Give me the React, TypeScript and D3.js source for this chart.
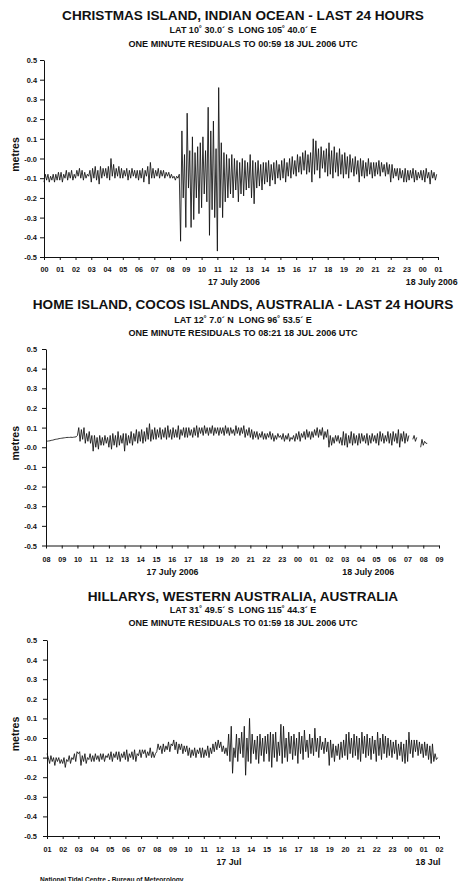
import React, { useRef, useEffect } from 'react';
import * as d3 from 'd3';

// shared y axis (metres)
const Y_TICKS = [0.5, 0.4, 0.3, 0.2, 0.1, 0, -0.1, -0.2, -0.3, -0.4, -0.5];
const Y_TICK_LABELS = ['0.5', '0.4', '0.3', '0.2', '0.1', '-0.0', '-0.1', '-0.2', '-0.3', '-0.4', '-0.5'];

const TITLES = [
  'CHRISTMAS ISLAND, INDIAN OCEAN - LAST 24 HOURS',
  'HOME ISLAND, COCOS ISLANDS, AUSTRALIA - LAST 24 HOURS',
  'HILLARYS, WESTERN AUSTRALIA, AUSTRALIA',
];
const POSITIONS = [
  'LAT 10˚ 30.0´ S\u00a0\u00a0LONG 105˚ 40.0´ E',
  'LAT 12˚ 7.0´ N\u00a0\u00a0LONG 96˚ 53.5´ E',
  'LAT 31˚ 49.5´ S\u00a0\u00a0LONG 115˚ 44.3´ E',
];
const RESIDUAL_LINES = [
  'ONE MINUTE RESIDUALS TO 00:59 18 JUL 2006 UTC',
  'ONE MINUTE RESIDUALS TO 08:21 18 JUL 2006 UTC',
  'ONE MINUTE RESIDUALS TO 01:59 18 JUL 2006 UTC',
];

const XMAS_HOURS = ['00', '01', '02', '03', '04', '05', '06', '07', '08', '09', '10', '11', '12', '13', '14', '15', '16', '17', '18', '19', '20', '21', '22', '23', '00', '01'];
const COCOS_HOURS = ['08', '09', '10', '11', '12', '13', '14', '15', '16', '17', '18', '19', '20', '21', '22', '23', '00', '01', '02', '03', '04', '05', '06', '07', '08', '09'];
const HILLARYS_HOURS = ['01', '02', '03', '04', '05', '06', '07', '08', '09', '10', '11', '12', '13', '14', '15', '16', '17', '18', '19', '20', '21', '22', '23', '00', '01', '02'];

const XMAS_DATES = ['17 July 2006', '18 July 2006'];
const COCOS_DATES = ['17 July 2006', '18 July 2006'];
const HILLARYS_DATES = ['17 Jul', '18 Jul'];

const FOOTER = 'National Tidal Centre - Bureau of Meteorology';

// residuals: one row per hour, six ten-minute (low, high) pairs
const XMAS_RESIDUALS: (number | null)[][] = [
  [-.12, -.08, -.11, -.08, -.12, -.09, -.11, -.08, -.12, -.08, -.11, -.07],
  [-.11, -.07, -.12, -.08, -.10, -.06, -.11, -.07, -.10, -.06, -.11, -.08],
  [-.10, -.06, -.09, -.05, -.10, -.06, -.11, -.07, -.10, -.08, -.09, -.06],
  [-.12, -.05, -.10, -.04, -.11, -.06, -.13, -.04, -.10, -.05, -.09, -.05],
  [-.10, -.04, -.11, .00, -.09, -.03, -.10, -.05, -.09, -.04, -.10, -.05],
  [-.10, -.06, -.09, -.05, -.11, -.06, -.10, -.05, -.09, -.06, -.10, -.06],
  [-.11, -.06, -.10, -.05, -.12, -.06, -.09, -.04, -.13, -.02, -.10, -.05],
  [-.10, -.06, -.09, -.05, -.10, -.06, -.09, -.06, -.10, -.07, -.09, -.07],
  [-.10, -.08, -.10, -.09, -.11, -.09, -.10, -.08, -.42, .14, -.20, .02],
  [-.35, .23, -.15, .04, -.35, .11, -.31, .03, -.20, .06, -.28, .08],
  [-.25, .11, -.18, .04, -.22, .26, -.39, .14, -.26, .19, -.30, .05],
  [-.47, .36, -.25, .08, -.30, .03, -.22, .02, -.20, .00, -.18, .02],
  [-.20, .00, -.16, -.01, -.22, -.02, -.18, .00, -.19, -.01, -.16, -.02],
  [-.15, .02, -.20, -.01, -.23, -.02, -.15, -.01, -.14, -.03, -.16, -.02],
  [-.13, -.02, -.12, -.01, -.14, -.03, -.11, -.02, -.13, -.01, -.10, -.03],
  [-.11, -.01, -.10, .00, -.12, -.02, -.09, .00, -.10, .01, -.08, -.01],
  [-.09, .02, -.07, .01, -.08, .03, -.06, .04, -.08, .02, -.07, .03],
  [-.12, .10, -.08, .09, -.06, .05, -.10, .06, -.05, .04, -.07, .05],
  [-.09, .08, -.08, .04, -.10, .06, -.07, .03, -.09, .05, -.08, .02],
  [-.10, .03, -.08, .01, -.10, .02, -.07, .00, -.09, .01, -.08, -.01],
  [-.12, .00, -.09, -.01, -.10, -.02, -.09, .00, -.08, -.02, -.10, -.02],
  [-.09, -.02, -.08, -.01, -.09, -.02, -.07, -.03, -.09, -.02, -.08, -.03],
  [-.12, -.03, -.10, -.05, -.09, -.05, -.11, -.05, -.10, -.06, -.12, -.05],
  [-.12, -.06, -.11, -.06, -.10, -.05, -.12, -.06, -.11, -.07, -.10, -.06],
  [-.11, -.06, -.12, -.05, -.10, -.07, -.13, -.06, -.10, -.07, -.11, -.08],
];

const COCOS_RESIDUALS: (number | null)[][] = [
  [.030, .031, .032, .033, .035, .036, .038, .040, .041, .042, .044, .045],
  [.046, .047, .048, .049, .050, .050, .050, .051, .050, .051, .052, .053],
  [.060, .100, .030, .090, .040, .100, .020, .070, .030, .080, .020, .060],
  [-.02, .06, .00, .05, -.01, .06, .01, .05, .01, .06, .02, .05],
  [.00, .06, -.01, .07, .01, .06, .00, .08, .01, .06, .02, .07],
  [-.02, .07, .01, .06, .02, .08, .01, .07, .03, .09, .02, .08],
  [.03, .09, .02, .08, .03, .10, .04, .12, .03, .09, .04, .10],
  [.04, .09, .05, .10, .04, .09, .05, .10, .04, .11, .05, .09],
  [.04, .10, .05, .09, .05, .11, .04, .09, .06, .10, .05, .10],
  [.05, .10, .06, .09, .05, .10, .06, .11, .05, .10, .07, .10],
  [.06, .11, .07, .10, .06, .10, .07, .11, .06, .10, .07, .10],
  [.06, .10, .07, .10, .06, .11, .07, .10, .06, .10, .07, .09],
  [.06, .11, .07, .10, .06, .10, .07, .11, .05, .09, .06, .10],
  [.05, .09, .04, .08, .05, .08, .04, .07, .05, .08, .04, .07],
  [.04, .07, .05, .08, .04, .07, .03, .06, .04, .07, .05, .06],
  [.04, .07, .03, .06, .04, .07, .03, .05, .04, .06, .03, .07],
  [.04, .08, .03, .07, .05, .08, .04, .09, .05, .08, .04, .08],
  [.05, .09, .06, .10, .05, .09, .06, .10, .04, .08, .05, .09],
  [.00, .06, .01, .05, .02, .06, .03, .06, .02, .05, .01, .08],
  [.01, .07, .00, .06, .02, .08, .01, .07, .02, .06, .01, .07],
  [.02, .07, .03, .06, .02, .07, .01, .06, .02, .07, .03, .06],
  [.02, .07, .01, .08, .03, .07, .02, .06, .03, .08, .02, .07],
  [.01, .08, .03, .07, .02, .09, .00, .07, .03, .08, .02, .07],
  [.03, .06, null, null, .04, .06, .03, .05, null, null, .00, .04],
  [.01, .03, .02, .02],
];

const HILLARYS_RESIDUALS: (number | null)[][] = [
  [-.08, -.10, -.13, -.09, -.12, -.10, -.14, -.10, -.12, -.10, -.13, -.11],
  [-.13, -.10, -.15, -.11, -.12, -.09, -.13, -.10, -.11, -.08, -.12, -.07],
  [-.08, -.07, -.14, -.09, -.12, -.08, -.13, -.10, -.11, -.08, -.12, -.09],
  [-.12, -.08, -.11, -.09, -.12, -.08, -.11, -.08, -.12, -.09, -.10, -.08],
  [-.11, -.07, -.12, -.08, -.10, -.07, -.11, -.07, -.12, -.08, -.10, -.07],
  [-.11, -.06, -.12, -.08, -.10, -.07, -.11, -.06, -.12, -.08, -.09, -.06],
  [-.10, -.06, -.08, -.06, -.10, -.07, -.09, -.05, -.10, -.07, -.10, -.08],
  [-.07, -.03, -.06, -.04, -.08, -.03, -.07, -.04, -.06, -.02, -.07, -.03],
  [-.04, -.01, -.06, -.02, -.08, -.03, -.06, -.03, -.08, -.04, -.07, -.04],
  [-.09, -.05, -.10, -.06, -.09, -.05, -.10, -.06, -.08, -.05, -.10, -.05],
  [-.10, -.06, -.09, -.04, -.10, -.05, -.08, -.03, -.07, -.02, -.06, -.01],
  [-.05, -.02, -.07, -.04, -.08, -.05, -.09, .02, -.12, .06, -.18, -.05],
  [-.10, .02, -.12, .00, -.08, .03, -.10, .06, -.19, .00, -.12, .10],
  [-.13, .02, -.08, -.01, -.11, .01, -.13, .02, -.09, .00, -.12, .01],
  [-.08, .02, -.12, .03, -.15, .02, -.10, .03, -.12, -.02, -.09, .07],
  [-.13, .06, -.10, .00, -.12, .03, -.08, .01, -.11, .02, -.09, .00],
  [-.13, .03, -.08, .01, -.11, .04, -.07, -.01, -.10, .02, -.08, .00],
  [-.09, .05, -.07, .00, -.10, .01, -.06, -.02, -.08, .00, -.07, -.02],
  [-.14, -.01, -.10, -.03, -.12, -.04, -.09, -.03, -.11, -.02, -.10, -.01],
  [-.09, .02, -.11, .03, -.08, .00, -.10, .02, -.09, .01, -.11, .00],
  [-.12, .03, -.08, .01, -.10, .02, -.09, .00, -.11, .01, -.08, -.01],
  [-.12, .03, -.09, .00, -.11, .02, -.08, .01, -.10, .00, -.09, -.01],
  [-.10, -.02, -.08, -.01, -.11, -.03, -.09, -.02, -.12, -.03, -.13, -.01],
  [-.12, .03, -.08, -.01, -.10, -.01, -.07, -.01, -.09, -.02, -.08, -.03],
  [-.10, -.02, -.09, -.03, -.11, -.04, -.13, -.03, -.12, -.08, -.11, -.10],
];

interface PanelLayout {
  title: string;
  position: string;
  residualLine: string;
  hours: string[];
  dates: string[];
  datesAt: number[]; // hour offsets of the date captions
  rows: (number | null)[][];
  titleY: number;
  positionY: number;
  residualY: number;
  top: number;
  bottom: number;
  left: number;
  right: number;
  hourLabelY: number;
  dateY: number;
}

const PANELS: PanelLayout[] = [
  {
    title: TITLES[0], position: POSITIONS[0], residualLine: RESIDUAL_LINES[0],
    hours: XMAS_HOURS, dates: XMAS_DATES, datesAt: [12.05, 24.6], rows: XMAS_RESIDUALS,
    titleY: 19.5, positionY: 33, residualY: 47, top: 60, bottom: 257, left: 44, right: 438,
    hourLabelY: 272, dateY: 285,
  },
  {
    title: TITLES[1], position: POSITIONS[1], residualLine: RESIDUAL_LINES[1],
    hours: COCOS_HOURS, dates: COCOS_DATES, datesAt: [8.05, 20.5], rows: COCOS_RESIDUALS,
    titleY: 309, positionY: 322.5, residualY: 336, top: 349, bottom: 545.5, left: 46, right: 439,
    hourLabelY: 562, dateY: 575,
  },
  {
    title: TITLES[2], position: POSITIONS[2], residualLine: RESIDUAL_LINES[2],
    hours: HILLARYS_HOURS, dates: HILLARYS_DATES, datesAt: [11.6, 24.3], rows: HILLARYS_RESIDUALS,
    titleY: 601, positionY: 612.5, residualY: 626, top: 640, bottom: 836, left: 47, right: 439,
    hourLabelY: 852, dateY: 865,
  },
];

const FONT = '"Liberation Sans", Arial, Helvetica, sans-serif';

function drawPanel(g: d3.Selection<SVGGElement, unknown, null, undefined>, p: PanelLayout) {
  const x = d3.scaleLinear().domain([0, p.hours.length - 1]).range([p.left, p.right]);
  const y = d3.scaleLinear().domain([-0.5, 0.5]).range([p.bottom, p.top]);
  const cx = 243;

  // headings
  g.append('text').attr('x', cx).attr('y', p.titleY).attr('text-anchor', 'middle')
    .style('font-size', '13.6px').style('font-weight', 'bold').text(p.title);
  g.append('text').attr('x', cx).attr('y', p.positionY).attr('text-anchor', 'middle')
    .style('font-size', '9px').style('font-weight', 'bold').text(p.position);
  g.append('text').attr('x', cx).attr('y', p.residualY).attr('text-anchor', 'middle')
    .style('font-size', '9.1px').style('font-weight', 'bold').text(p.residualLine);

  // y axis
  const yAxis = d3.axisLeft(y)
    .tickValues(Y_TICKS)
    .tickSize(4)
    .tickSizeOuter(0)
    .tickPadding(p.left - 4 - 37)
    .tickFormat((_d, i) => Y_TICK_LABELS[i]);
  const ya = g.append('g').attr('transform', `translate(${p.left},0)`).call(yAxis);
  ya.selectAll('text').style('font-size', '7.4px').style('font-weight', 'bold').attr('dy', '0.35em');

  // x axis
  const xAxis = d3.axisBottom(x)
    .tickValues(d3.range(p.hours.length))
    .tickSize(3)
    .tickSizeOuter(0)
    .tickPadding(0)
    .tickFormat((_d, i) => p.hours[i]);
  const xa = g.append('g').attr('transform', `translate(0,${p.bottom})`).call(xAxis);
  xa.selectAll('text').style('font-size', '7.2px').style('font-weight', 'bold')
    .attr('y', p.hourLabelY - p.bottom).attr('dy', 0);

  [ya, xa].forEach(a => {
    a.attr('font-family', null).attr('font-size', null);
    a.selectAll('.domain, .tick line').attr('stroke', '#111').attr('stroke-width', 1);
    a.selectAll('.tick text').attr('fill', '#111');
  });

  // "metres"
  const midY = (p.top + p.bottom) / 2;
  g.append('text').attr('transform', `translate(19,${midY - 4}) rotate(-90)`)
    .attr('text-anchor', 'middle').style('font-size', '10.5px').style('font-weight', 'bold').text('metres');

  // date captions
  p.dates.forEach((d, i) => {
    g.append('text').attr('x', x(p.datesAt[i])).attr('y', p.dateY).attr('text-anchor', 'middle')
      .style('font-size', '8.8px').style('font-weight', 'bold').text(d);
  });

  // trace: each ten-minute (low, high) pair becomes two samples
  const samples: [number, number | null][] = [];
  p.rows.forEach((row, h) => {
    for (let k = 0; k < row.length; k += 2) {
      const t = h + (k / 2) / 6;
      samples.push([t, row[k]]);
      samples.push([t + 1 / 12, row[k + 1]]);
    }
  });
  const line = d3.line<[number, number | null]>()
    .defined(d => d[1] != null)
    .x(d => x(d[0]))
    .y(d => y(d[1] as number));
  g.append('path').datum(samples)
    .attr('fill', 'none')
    .attr('stroke', '#111')
    .attr('stroke-width', 0.85)
    .attr('stroke-linejoin', 'round')
    .attr('d', line);
}

export default function App() {
  const ref = useRef<SVGSVGElement | null>(null);

  useEffect(() => {
    if (!ref.current) return;
    const svg = d3.select(ref.current);
    svg.selectAll('*').remove();
    svg.append('rect').attr('width', 463).attr('height', 881).attr('fill', '#fff');
    PANELS.forEach(p => drawPanel(svg.append('g'), p));
    svg.append('text').attr('x', 40).attr('y', 881.5)
      .style('font-size', '6.6px').style('font-weight', 'bold').text(FOOTER);
  }, []);

  return (
    <svg
      ref={ref}
      width={463}
      height={881}
      style={{ position: 'absolute', left: 0, top: 0, fontFamily: FONT, fill: '#111' }}
    />
  );
}
